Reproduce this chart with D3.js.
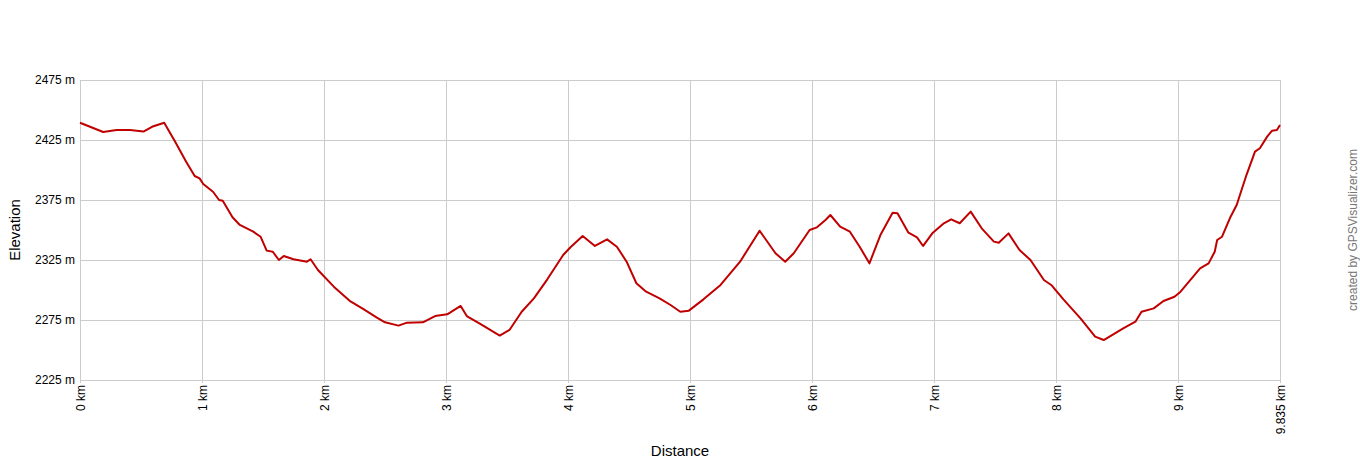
<!DOCTYPE html>
<html>
<head>
<meta charset="utf-8">
<script src="https://cdn.jsdelivr.net/npm/d3@7"></script>
<style>
  body { margin: 0; background: #fff; }
  text { font-family: "Liberation Sans", Arial, sans-serif; fill: #000; }
  .grid line { stroke: #cccccc; stroke-width: 1; shape-rendering: crispEdges; }
  .track { fill: none; stroke: #c00000; stroke-width: 2; stroke-linejoin: round; }
</style>
</head>
<body>
<svg id="chart" width="1360" height="460"></svg>
<script>
// distance along the track (km) and elevation (m)
var dist = [0, 0.19, 0.30, 0.41, 0.52, 0.59, 0.69, 0.78, 0.87, 0.94, 0.98, 1.01, 1.09, 1.14, 1.17,
  1.25, 1.31, 1.42, 1.48, 1.53, 1.58, 1.63, 1.67, 1.75, 1.86, 1.89, 1.95, 2.08, 2.21, 2.32,
  2.43, 2.50, 2.61, 2.68, 2.81, 2.91, 3.01, 3.12, 3.17, 3.28, 3.44, 3.52, 3.62, 3.72, 3.83,
  3.96, 4.02, 4.12, 4.22, 4.32, 4.40, 4.48, 4.56, 4.64, 4.75, 4.84, 4.92, 4.99, 5.11, 5.25,
  5.41, 5.57, 5.70, 5.78, 5.85, 5.98, 6.04, 6.11, 6.15, 6.23, 6.31, 6.39, 6.47, 6.56, 6.66,
  6.70, 6.79, 6.86, 6.91, 6.99, 7.08, 7.14, 7.21, 7.30, 7.39, 7.49, 7.53, 7.61, 7.70, 7.79,
  7.90, 7.96, 8.06, 8.20, 8.32, 8.39, 8.55, 8.65, 8.70, 8.80, 8.88, 8.97, 9.02, 9.18, 9.25,
  9.30, 9.32, 9.36, 9.43, 9.48, 9.56, 9.63, 9.67, 9.73, 9.77, 9.81, 9.835]
var elev = [2439.4, 2431.7, 2433.3, 2433.3, 2432, 2436, 2439.4, 2423.6, 2406.9, 2395, 2393, 2388.3, 2381.9, 2375, 2374.4,
  2360.6, 2354.2, 2348.6, 2344.4, 2332.8, 2331.9, 2325, 2328.3, 2325.6, 2323.6, 2325.6, 2316.7, 2302.8, 2291, 2284.2,
  2277.2, 2273.1, 2270.3, 2272.8, 2273.1, 2278.3, 2279.7, 2286.7, 2278.3, 2271.7, 2262, 2266.7, 2281.9, 2293, 2308.9,
  2329.2, 2335.6, 2345, 2336.7, 2342.2, 2336.1, 2323.6, 2305.6, 2298.6, 2293, 2287.5, 2281.9, 2282.8, 2292.2, 2304.2,
  2323.6, 2349.4, 2330.6, 2323.6, 2330.6, 2350, 2352.2, 2358.3, 2362.5, 2352.8, 2348.6, 2336.1, 2322.2, 2345.8, 2364.4,
  2363.9, 2347.8, 2343.9, 2336.7, 2347.8, 2355.6, 2358.9, 2355.6, 2365.3, 2351.4, 2340.3, 2339.4, 2347.2, 2333.3, 2325,
  2308.3, 2304.2, 2292.2, 2276.4, 2261.1, 2258.3, 2268.1, 2273.6, 2281.9, 2284.7, 2290.8, 2294.4, 2298.6, 2318.1, 2322.2,
  2331.9, 2341.7, 2344.4, 2361.1, 2370.8, 2395.8, 2415.3, 2418.1, 2427.8, 2432.8, 2433.3, 2437.5]

var xTicks = [0, 1, 2, 3, 4, 5, 6, 7, 8, 9, 9.835]
var yTicks = [2225, 2275, 2325, 2375, 2425, 2475]

var margin = {left: 80, top: 80, right: 80, bottom: 80}
var width = 1200, height = 300

var svg = d3.select('#chart')
var g = svg.append('g').attr('transform', 'translate(' + margin.left + ',' + margin.top + ')')

var x = d3.scaleLinear().domain([0, 9.835]).range([0, width])
var y = d3.scaleLinear().domain([2225, 2475]).range([height, 0])

// grid
var grid = g.append('g').attr('class', 'grid')
grid.selectAll('line.h').data(yTicks).join('line').attr('class', 'h')
  .attr('x1', 0).attr('x2', width)
  .attr('y1', d => Math.round(y(d)) + 0.5).attr('y2', d => Math.round(y(d)) + 0.5)
grid.selectAll('line.v').data(xTicks).join('line').attr('class', 'v')
  .attr('x1', d => Math.round(x(d)) + 0.5).attr('x2', d => Math.round(x(d)) + 0.5)
  .attr('y1', 0).attr('y2', height + 3)

// y labels
g.selectAll('text.ylab').data(yTicks).join('text').attr('class', 'ylab')
  .attr('x', -5).attr('y', d => y(d))
  .attr('dy', '0.35em').attr('text-anchor', 'end')
  .style('font-size', '12px')
  .text(d => d + ' m')

// x labels, rotated
g.selectAll('text.xlab').data(xTicks).join('text').attr('class', 'xlab')
  .attr('transform', d => 'translate(' + (x(d) + 1) + ',' + (height + 5) + ') rotate(-90)')
  .attr('dy', '0.35em').attr('text-anchor', 'end')
  .style('font-size', '12px')
  .text(d => d + ' km')

// track
var pts = dist.map((d, i) => [d, elev[i]])
var line = d3.line().x(d => x(d[0])).y(d => y(d[1]))
g.append('path').attr('class', 'track').attr('d', line(pts))

// axis titles
svg.append('text')
  .attr('x', 680).attr('y', 456)
  .attr('text-anchor', 'middle')
  .style('font-size', '15px')
  .text('Distance')

svg.append('text')
  .attr('transform', 'translate(20,230) rotate(-90)')
  .attr('text-anchor', 'middle')
  .style('font-size', '15px')
  .text('Elevation')

svg.append('text')
  .attr('transform', 'translate(1357,230) rotate(-90)')
  .attr('text-anchor', 'middle')
  .style('font-size', '12px')
  .style('fill', '#777')
  .text('created by GPSVisualizer.com')
</script>
</body>
</html>
